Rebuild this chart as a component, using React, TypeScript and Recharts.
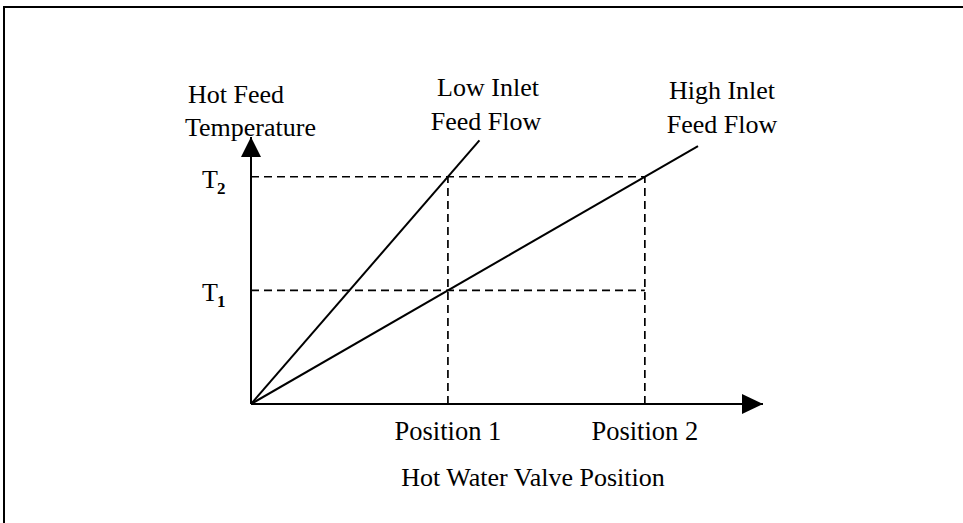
import React from 'react';
import { LineChart, Line, XAxis, YAxis, ReferenceLine, ReferenceDot } from 'recharts';

// valve positions on x, temperatures on y (T1 = 1, T2 = 2)
const positionTicks = [1, 2];
const positionLabels = ['Position 1', 'Position 2'];
const tempTicks = [1, 2];
const tempSubs = ['1', '2'];

const highInletFlow = [
  { x: 0, y: 0 },
  { x: 2.27, y: 2.27 },
];
const lowInletFlow = [
  { x: 0, y: 0 },
  { x: 1.16, y: 2.32 },
];

const X_MAX = 2.6;
const Y_MAX = 2.35;

const FONT = '"Liberation Serif", "Times New Roman", serif';

const XTick = (props: any) => {
  const { x, y, payload } = props;
  const i = positionTicks.indexOf(payload.value);
  return (
    <text x={x} y={y + 36} textAnchor="middle" fontFamily={FONT} fontSize={26.5} fill="#000">
      {positionLabels[i]}
    </text>
  );
};

const YTick = (props: any) => {
  const { y, payload } = props;
  const i = tempTicks.indexOf(payload.value);
  return (
    <g>
      <text x={202} y={y + 11} fontFamily={FONT} fontSize={26} fill="#000">T</text>
      <text x={217} y={y + 17} fontFamily={FONT} fontSize={17} fontWeight="bold" fill="#000">
        {tempSubs[i]}
      </text>
    </g>
  );
};

const ArrowRight = (props: any) => {
  const { cx, cy } = props;
  return <polygon points={`${cx},${cy} ${cx - 21},${cy - 10} ${cx - 21},${cy + 10}`} fill="#000" />;
};

const ArrowUp = (props: any) => {
  const { cx, cy } = props;
  return <polygon points={`${cx},${cy} ${cx - 10},${cy + 20} ${cx + 10},${cy + 20}`} fill="#000" />;
};

const dash = { stroke: '#000', strokeWidth: 1.7, strokeDasharray: '8 5' };

export default function App() {
  return (
    <div
      style={{
        position: 'fixed',
        left: 0,
        top: 0,
        width: 963,
        height: 523,
        overflow: 'hidden',
        background: '#fff',
      }}
    >
      <div
        style={{
          position: 'absolute',
          left: 3,
          top: 6,
          width: 1000,
          height: 600,
          borderTop: '2px solid #000',
          borderLeft: '2px solid #000',
        }}
      />
      <div style={{ position: 'absolute', left: 0, top: 0 }}>
        <LineChart width={963} height={523} margin={{ top: 137, right: 200, bottom: 89, left: 191 }}>
          <XAxis
            type="number"
            dataKey="x"
            domain={[0, X_MAX]}
            ticks={positionTicks}
            tick={<XTick />}
            tickLine={false}
            tickSize={0}
            tickMargin={0}
            height={30}
            axisLine={{ stroke: '#000', strokeWidth: 2 }}
            allowDataOverflow
          />
          <YAxis
            type="number"
            dataKey="y"
            domain={[0, Y_MAX]}
            ticks={tempTicks}
            tick={<YTick />}
            tickLine={false}
            tickSize={0}
            tickMargin={0}
            width={60}
            axisLine={{ stroke: '#000', strokeWidth: 2 }}
            allowDataOverflow
          />
          <ReferenceLine segment={[{ x: 0, y: 2 }, { x: 2, y: 2 }]} {...dash} />
          <ReferenceLine segment={[{ x: 0, y: 1 }, { x: 2, y: 1 }]} {...dash} />
          <ReferenceLine segment={[{ x: 1, y: 0 }, { x: 1, y: 2 }]} {...dash} />
          <ReferenceLine segment={[{ x: 2, y: 0 }, { x: 2, y: 2 }]} {...dash} />
          <Line
            data={lowInletFlow}
            dataKey="y"
            type="linear"
            stroke="#000"
            strokeWidth={2}
            dot={false}
            isAnimationActive={false}
          />
          <Line
            data={highInletFlow}
            dataKey="y"
            type="linear"
            stroke="#000"
            strokeWidth={2}
            dot={false}
            isAnimationActive={false}
          />
          <ReferenceDot x={X_MAX} y={0} r={0} shape={<ArrowRight />} ifOverflow="visible" />
          <ReferenceDot x={0} y={Y_MAX} r={0} shape={<ArrowUp />} ifOverflow="visible" />
        </LineChart>
      </div>
      <svg
        width={963}
        height={523}
        style={{ position: 'absolute', left: 0, top: 0, pointerEvents: 'none' }}
        fontFamily={FONT}
        fontSize={26}
        fill="#000"
      >
        <text x={188} y={103}>Hot Feed</text>
        <text x={185} y={136}>Temperature</text>
        <text x={488} y={96} textAnchor="middle">Low Inlet</text>
        <text x={486} y={130} textAnchor="middle">Feed Flow</text>
        <text x={722} y={99} textAnchor="middle">High Inlet</text>
        <text x={722} y={133} textAnchor="middle">Feed Flow</text>
        <text x={533} y={486} textAnchor="middle">Hot Water Valve Position</text>
      </svg>
    </div>
  );
}
